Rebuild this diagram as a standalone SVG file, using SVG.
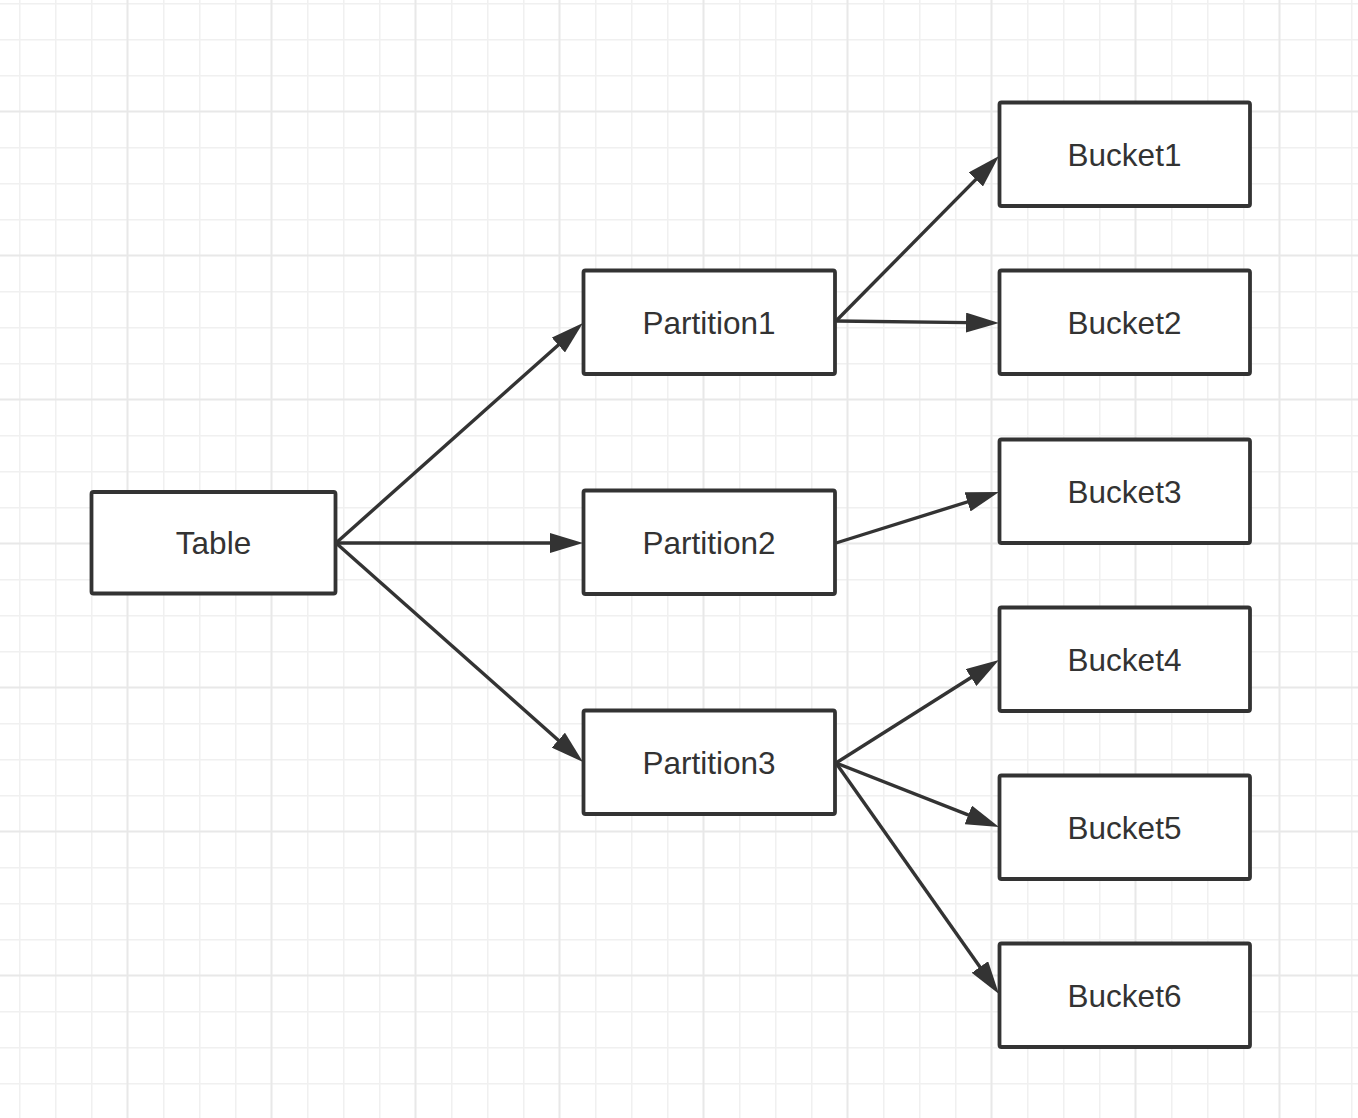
<svg xmlns="http://www.w3.org/2000/svg" width="1358" height="1118" viewBox="0 0 1358 1118">
<style>
.box{fill:#fff;stroke:#333;stroke-width:3.8}
.lbl{font-family:"Liberation Sans",Arial,sans-serif;font-size:31.5px;fill:#333;text-anchor:middle}
.edge{stroke:#333;stroke-width:3.4;fill:none}
</style>
<defs>
<pattern id="grid" patternUnits="userSpaceOnUse" x="19" y="3" width="144" height="144">
<rect x="0" y="0" width="1.5" height="144" fill="#f0f0f0"/>
<rect x="36" y="0" width="1.5" height="144" fill="#f0f0f0"/>
<rect x="72" y="0" width="1.5" height="144" fill="#f0f0f0"/>
<rect x="0" y="0" width="144" height="1.5" fill="#f0f0f0"/>
<rect x="0" y="36" width="144" height="1.5" fill="#f0f0f0"/>
<rect x="0" y="72" width="144" height="1.5" fill="#f0f0f0"/>
<rect x="107.5" y="0" width="2" height="144" fill="#e8e8e8"/>
<rect x="0" y="107.5" width="144" height="2" fill="#e8e8e8"/>
</pattern>
<marker id="arr" viewBox="0 0 33 20" refX="23" refY="10" markerWidth="33" markerHeight="20" markerUnits="userSpaceOnUse" orient="auto">
<path d="M0,0 L33,10 L0,20 Z" fill="#333"/>
</marker>
</defs>
<rect width="1358" height="1118" fill="#fff"/>
<rect width="1358" height="1118" fill="url(#grid)"/>
<g id="connectors">
<line class="edge" x1="336" y1="543" x2="575.5" y2="329.7" marker-end="url(#arr)"/>
<line class="edge" x1="336" y1="543" x2="573" y2="543" marker-end="url(#arr)"/>
<line class="edge" x1="336" y1="543" x2="575.5" y2="755.4" marker-end="url(#arr)"/>
<line class="edge" x1="836" y1="321" x2="992" y2="163.1" marker-end="url(#arr)"/>
<line class="edge" x1="836" y1="321" x2="989" y2="322.9" marker-end="url(#arr)"/>
<line class="edge" x1="836" y1="543" x2="989.5" y2="495" marker-end="url(#arr)"/>
<line class="edge" x1="836" y1="763" x2="990.5" y2="665.3" marker-end="url(#arr)"/>
<line class="edge" x1="836" y1="763" x2="989.7" y2="823.3" marker-end="url(#arr)"/>
<line class="edge" x1="836" y1="763" x2="993.2" y2="985.8" marker-end="url(#arr)"/>
</g>
<g id="table"><rect class="box" x="91.5" y="492" width="244" height="101.5" rx="2"/><text class="lbl" x="213.5" y="554">Table</text></g>
<g id="partition1"><rect class="box" x="583.5" y="270.5" width="251.5" height="103.5" rx="2"/><text class="lbl" x="709" y="333.5">Partition1</text></g>
<g id="partition2"><rect class="box" x="583.5" y="490.5" width="251.5" height="103.5" rx="2"/><text class="lbl" x="709" y="553.5">Partition2</text></g>
<g id="partition3"><rect class="box" x="583.5" y="710.5" width="251.5" height="103.5" rx="2"/><text class="lbl" x="709" y="773.5">Partition3</text></g>
<g id="bucket1"><rect class="box" x="999.5" y="102.5" width="250.5" height="103.5" rx="2"/><text class="lbl" x="1124.5" y="165.5">Bucket1</text></g>
<g id="bucket2"><rect class="box" x="999.5" y="270.5" width="250.5" height="103.5" rx="2"/><text class="lbl" x="1124.5" y="333.5">Bucket2</text></g>
<g id="bucket3"><rect class="box" x="999.5" y="439.5" width="250.5" height="103.5" rx="2"/><text class="lbl" x="1124.5" y="502.5">Bucket3</text></g>
<g id="bucket4"><rect class="box" x="999.5" y="607.5" width="250.5" height="103.5" rx="2"/><text class="lbl" x="1124.5" y="670.5">Bucket4</text></g>
<g id="bucket5"><rect class="box" x="999.5" y="775.5" width="250.5" height="103.5" rx="2"/><text class="lbl" x="1124.5" y="838.5">Bucket5</text></g>
<g id="bucket6"><rect class="box" x="999.5" y="943.5" width="250.5" height="103.5" rx="2"/><text class="lbl" x="1124.5" y="1006.5">Bucket6</text></g>
</svg>
